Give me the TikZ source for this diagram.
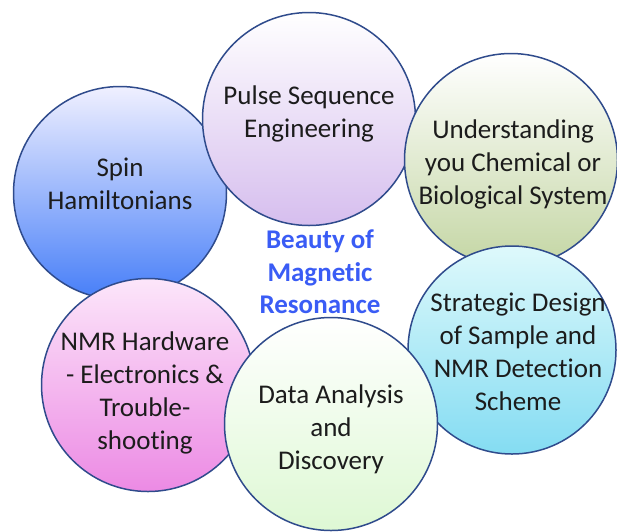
\documentclass[tikz,border=0pt]{standalone}
\usepackage{fontspec}
\setmainfont{Carlito}[Ligatures={NoCommon}]
\begin{document}
\begin{tikzpicture}[x=1pt,y=-1pt,
  bubble/.style={circle, draw=edgeblue, line width=1.5pt, minimum size=#1},
  bubble/.default=213pt,
  label/.style={align=center, text=textgrey, font=\fontsize{27}{33}\selectfont},
  title/.style={align=center, text=titleblue, font=\bfseries\fontsize{27}{32.5}\selectfont}]
  \definecolor{edgeblue}{HTML}{2F4B8C}
  \definecolor{textgrey}{HTML}{1C1C1C}
  \definecolor{titleblue}{HTML}{3A5CF5}
  \useasboundingbox (0,0) rectangle (617,531);
  % bubbles, back to front
  \node[bubble, top color=blue!6!white, bottom color={rgb,255:red,70;green,126;blue,248}] (spin) at (120,193) {};
  \node[bubble, top color=white, bottom color={rgb,255:red,214;green,190;blue,238}] (pulse) at (309,119) {};
  \node[bubble, top color=white, bottom color={rgb,255:red,196;green,214;blue,164}] (chem) at (511,160) {};
  \node[bubble, minimum size=208pt, top color={rgb,255:red,222;green,249;blue,251}, bottom color={rgb,255:red,132;green,220;blue,242}] (design) at (512,350) {};
  \node[bubble, top color={rgb,255:red,252;green,230;blue,250}, bottom color={rgb,255:red,236;green,138;blue,228}] (hw) at (148,385) {};
  \node[bubble, top color=white, bottom color={rgb,255:red,222;green,248;blue,212}] (data) at (331,424) {};
  % captions (yshift is in page units, positive = up)
  \node[label] at (spin.center) [yshift=9pt] {Spin\\Hamiltonians};
  \node[label] at (pulse.center) [yshift=5pt] {Pulse Sequence\\Engineering};
  \node[label] at (chem.center) [xshift=2pt,yshift=-4pt] {Understanding\\you Chemical or\\Biological System};
  \node[label] at (design.center) [xshift=6pt,yshift=-2pt] {Strategic Design\\of Sample and\\NMR Detection\\Scheme};
  \node[label] at (hw.center) [xshift=-3pt,yshift=-8pt] {NMR Hardware\\- Electronics \&\\Trouble-\\shooting};
  \node[label] at (data.center) [yshift=-5pt] {Data Analysis\\and\\Discovery};
  \node[title] (beauty) at (320,272) {Beauty of\\Magnetic\\Resonance};
\end{tikzpicture}
\end{document}
